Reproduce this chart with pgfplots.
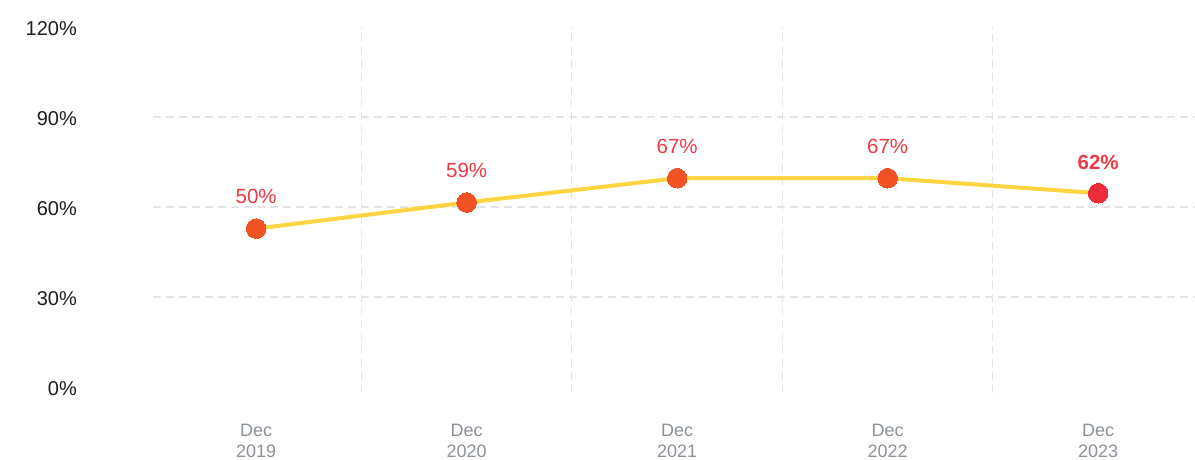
\documentclass[border=0pt]{standalone}
\usepackage{pgfplots}
\pgfplotsset{compat=1.18}
\usepackage{fontspec}
\setmainfont{Liberation Sans}
\definecolor{lineY}{HTML}{FCD540}
\definecolor{mkO}{HTML}{F05223}
\definecolor{mkR}{HTML}{EE2A3B}
\definecolor{lblR}{HTML}{EE3A45}
\definecolor{gridC}{HTML}{E4E4E4}
\definecolor{xtickC}{HTML}{8C9199}
\definecolor{ytickC}{HTML}{1C1C1C}
\begin{document}
\begin{tikzpicture}
\begin{axis}[
  at={(0pt,0pt)}, anchor=south west,
  scale only axis, width=1042pt, height=366pt,
  xmin=-0.49, xmax=4.46, ymin=-2, ymax=120,
  axis line style={draw=none},
  major tick length=0pt,
  tick style={draw=none},
  xtick={0,1,2,3,4},
  xticklabels={{Dec\\2019},{Dec\\2020},{Dec\\2021},{Dec\\2022},{Dec\\2023}},
  xticklabel style={align=center, inner sep=0pt, anchor=north, yshift=-30.5pt,
    font=\fontsize{18}{21}\selectfont, text=xtickC},
  ytick={0,30,60,90,120},
  yticklabels={0\%,30\%,60\%,90\%,120\%},
  yticklabel style={anchor=east, inner sep=0pt, xshift=-76pt, yshift=-2pt,
    font=\fontsize{20}{24}\selectfont, text=ytickC},
  extra y ticks={30,60,90},
  extra y tick labels={},
  extra y tick style={grid=major},
  extra x ticks={0.5,1.5,2.5,3.5},
  extra x tick labels={},
  extra x tick style={grid=major},
  major grid style={draw=gridC, line width=1.1pt, dash pattern=on 8pt off 5pt},
  clip=false,
]
\addplot[lineY, line width=4pt, no marks] table {
x y
0 52.8
1 61.5
2 69.6
3 69.6
4 64.6
};
\addplot[color=mkO, only marks, mark=*, mark size=9.8pt, mark options={draw=mkO, fill=mkO, line width=0pt},
  point meta=explicit symbolic, nodes near coords,
  nodes near coords style={anchor=center, yshift=32pt, inner sep=0pt,
    font=\fontsize{20.5}{24}\selectfont, text=lblR}]
  table[meta=label] {
x y label
0 52.8 50\%
1 61.5 59\%
2 69.6 67\%
3 69.6 67\%
};
\addplot[color=mkR, only marks, mark=*, mark size=9.8pt, mark options={draw=mkR, fill=mkR, line width=0pt},
  point meta=explicit symbolic, nodes near coords,
  nodes near coords style={anchor=center, yshift=31pt, inner sep=0pt,
    font=\fontsize{20.5}{24}\selectfont\bfseries, text=lblR}]
  table[meta=label] {
x y label
4 64.6 62\%
};
\end{axis}
\pgfresetboundingbox
\path[use as bounding box] (-153pt,-66pt) rectangle (1042pt,393pt);
\end{tikzpicture}
\end{document}
